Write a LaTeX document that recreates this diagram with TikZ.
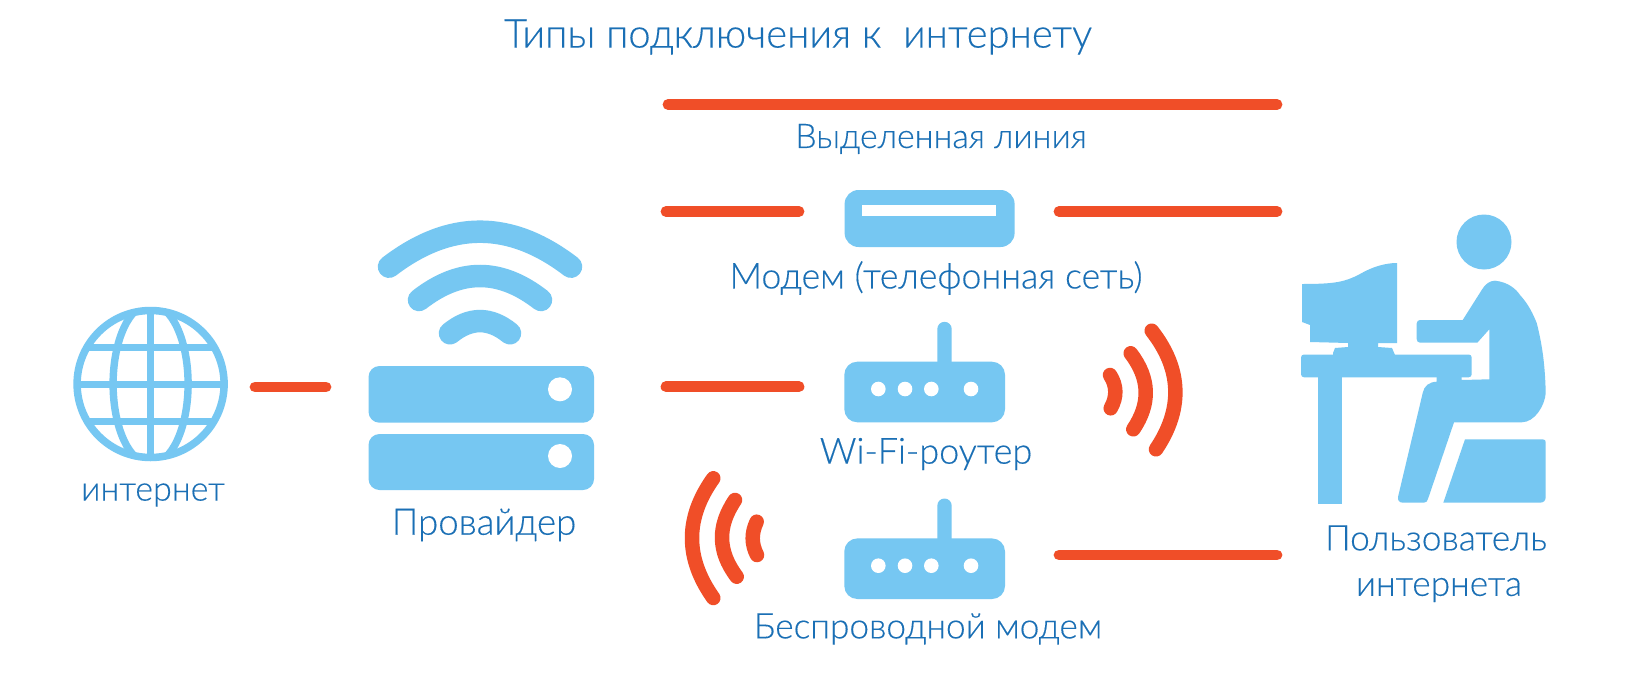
\documentclass[tikz,border=0pt]{standalone}
\usepackage{fontspec}
\setmainfont{Lato Light}[FakeBold=0.3]
\definecolor{icon}{HTML}{76C7F2}
\definecolor{wire}{HTML}{F04E28}
\definecolor{ink}{HTML}{1A6FB5}
\tikzset{
  x=1pt,y=-1pt,
  label text/.style={text=ink,inner sep=0pt,anchor=center,font=\fontsize{#1}{#1}\selectfont},
  wire line/.style={draw=wire,line width=10.8pt,line cap=round},
  wave red/.style={draw=wire,line width=14.5pt,line cap=round},
  wave blue/.style={draw=icon,line width=22.5pt,line cap=round},
  icon fill/.style={fill=icon,draw=none},
  hole/.style={fill=white,draw=none},
  globe line/.style={draw=icon,line width=7.4pt},
}
\newcommand{\routericon}[1]{%
  \begin{scope}[yshift=#1]
    \fill[icon fill] (937.3,364) -- (937.3,329) arc[start angle=180,end angle=360,x radius=7.2,y radius=7.2] -- (951.7,364) -- cycle;
    \path[icon fill,rounded corners=13pt] (844.3,361.7) rectangle (1005,422.3);
    \foreach \hx in {878.3,905,931.3,971}{\fill[hole] (\hx,389) circle[radius=7.3];}
  \end{scope}}
\begin{document}
\begin{tikzpicture}
\useasboundingbox (0,0) rectangle (1649,688);
\fill[white] (0,0) rectangle (1649,688);
% named ends of the red lines
\coordinate (dedA) at (668,104.5);\coordinate (dedB) at (1277,104.5);
\coordinate (modA) at (666,211.5);\coordinate (modB) at (799,211.5);
\coordinate (modC) at (1059,211.5);\coordinate (modD) at (1277,211.5);
\coordinate (wifiA) at (666,386.7);\coordinate (wifiB) at (799,386.7);
\coordinate (netA) at (255,387);\coordinate (netB) at (326,387);
\coordinate (wlA) at (1059,555);\coordinate (wlB) at (1277,555);
\draw[wire line] (dedA) -- (dedB);
\draw[wire line] (modA) -- (modB);
\draw[wire line] (modC) -- (modD);
\draw[wire line] (wifiA) -- (wifiB);
\draw[wire line] (netA) -- (netB);
\draw[wire line] (wlA) -- (wlB);
% globe
\begin{scope}
  \clip (150.6,384) circle[radius=75];
  \draw[globe line] (150.6,384) ellipse[x radius=37.5,y radius=80];
  \draw[globe line] (150.6,308) -- (150.6,460);
  \draw[globe line] (70,347.3) -- (230,347.3);
  \draw[globe line] (70,384.3) -- (230,384.3);
  \draw[globe line] (70,421.7) -- (230,421.7);
\end{scope}
\draw[draw=icon,line width=7.5pt] (150.6,384) circle[radius=73.5];
% provider
\draw[wave blue] (389,266.7) .. controls (450,220) and (510,220) .. (571,266.7);
\draw[wave blue] (419,300) .. controls (460,268) and (500,268) .. (541,300);
\draw[wave blue] (450,333.3) .. controls (470,317) and (490,317) .. (510,333.3);
\path[icon fill,rounded corners=11pt] (368.5,366) rectangle (594,422.7);
\path[icon fill,rounded corners=11pt] (368.5,434) rectangle (594,490);
\fill[hole] (560,389.3) circle[radius=12];
\fill[hole] (560,456) circle[radius=12];
% modem
\path[icon fill,rounded corners=14pt] (844.6,190) rectangle (1014.6,247);
\fill[hole] (862,205) rectangle (995.6,216);
% routers
\routericon{0pt}
\routericon{-176.7pt}
% waves, right
\draw[wave red] (1151.7,330.7) .. controls (1182.5,370) and (1182.5,410) .. (1156,449.3);
\draw[wave red] (1130.7,353.3) .. controls (1150.3,379) and (1150.3,404) .. (1133.3,429.3);
\draw[wave red] (1110,375) .. controls (1117,386) and (1117,397) .. (1110.7,408.3);
% waves, left
\draw[wave red] (713.3,478.3) .. controls (684.9,518) and (684.9,558) .. (713.3,598);
\draw[wave red] (735,500) .. controls (717.4,526) and (717.4,551) .. (736.7,576.7);
\draw[wave red] (756.7,521.7) .. controls (751.3,533) and (751.3,544) .. (757,555);
% computer and desk
\fill[icon fill] (1302,284) .. controls (1335,284) and (1345,282) .. (1360,274) .. controls (1372,267) and (1385,263) .. (1397,263)
  -- (1397,343) -- (1378,343) -- (1378,347) -- (1392,348) -- (1395,355) -- (1395,360) -- (1333,360) -- (1333,353) -- (1335,348) -- (1348,347) -- (1348,343) -- (1310,342) -- (1310,325) -- (1302,322) -- cycle;
\path[icon fill,rounded corners=3pt] (1301,354.5) rectangle (1471.7,377.3);
\fill[icon fill] (1318,370) rectangle (1342,504);
% person
\fill[icon fill] (1484,242) circle[radius=27.5];
\fill[icon fill] (1495,280.7) .. controls (1508,282) and (1516,289) .. (1520,295)
  .. controls (1529,305) and (1533,314) .. (1536.7,323)
  .. controls (1541,340) and (1545,360) .. (1545.7,393)
  .. controls (1545,405) and (1535,422.3) .. (1521.7,422.3)
  -- (1454,422.3) -- (1428.3,498) .. controls (1427.5,501) and (1426.5,502.7) .. (1424,502.7)
  -- (1403,502.7) .. controls (1399,502.7) and (1397.5,500) .. (1398,497)
  -- (1422.7,393) .. controls (1424,386) and (1429,382) .. (1436.7,381.7)
  -- (1436.7,370) -- (1461.7,370) -- (1461.7,380) -- (1489.3,379.3) -- (1489.3,329.3) -- (1477.3,342.7)
  -- (1420,342.7) .. controls (1418,342.7) and (1416.7,341) .. (1416.7,339)
  -- (1416.7,323.5) .. controls (1416.7,321.5) and (1418,320) .. (1420,320)
  -- (1462.7,320) -- (1481.7,290) .. controls (1485,284) and (1490,280.7) .. (1495,280.7) -- cycle;
% stool
\fill[icon fill] (1465,439.3) -- (1542.7,439.3) .. controls (1544.7,439.3) and (1545.7,440.5) .. (1545.7,442.3)
  -- (1545.7,497) .. controls (1545.7,500.5) and (1543.5,502.7) .. (1540,502.7) -- (1443.3,502.7) -- cycle;
% texts
\node[label text=40] (title) at (798,37) {Типы подключения к\ \ интернету};
\node[label text=33.9] (tded) at (941,139) {Выделенная линия};
\node[label text=35.7] (tmod) at (936,278) {Модем (телефонная сеть)};
\node[label text=36] (twifi) at (926,454) {Wi-Fi-роутер};
\node[label text=35.3] (twl) at (928,629) {Беспроводной модем};
\node[label text=34] (tnet) at (153,495) {интернет};
\node[label text=36.7] (tprov) at (484,525) {Провайдер};
\node[label text=35.3] (tuser) at (1436,538) {Пользователь};
\node[label text=35.3] (tuser2) at (1439,590) {интернета};
\end{tikzpicture}
\end{document}
